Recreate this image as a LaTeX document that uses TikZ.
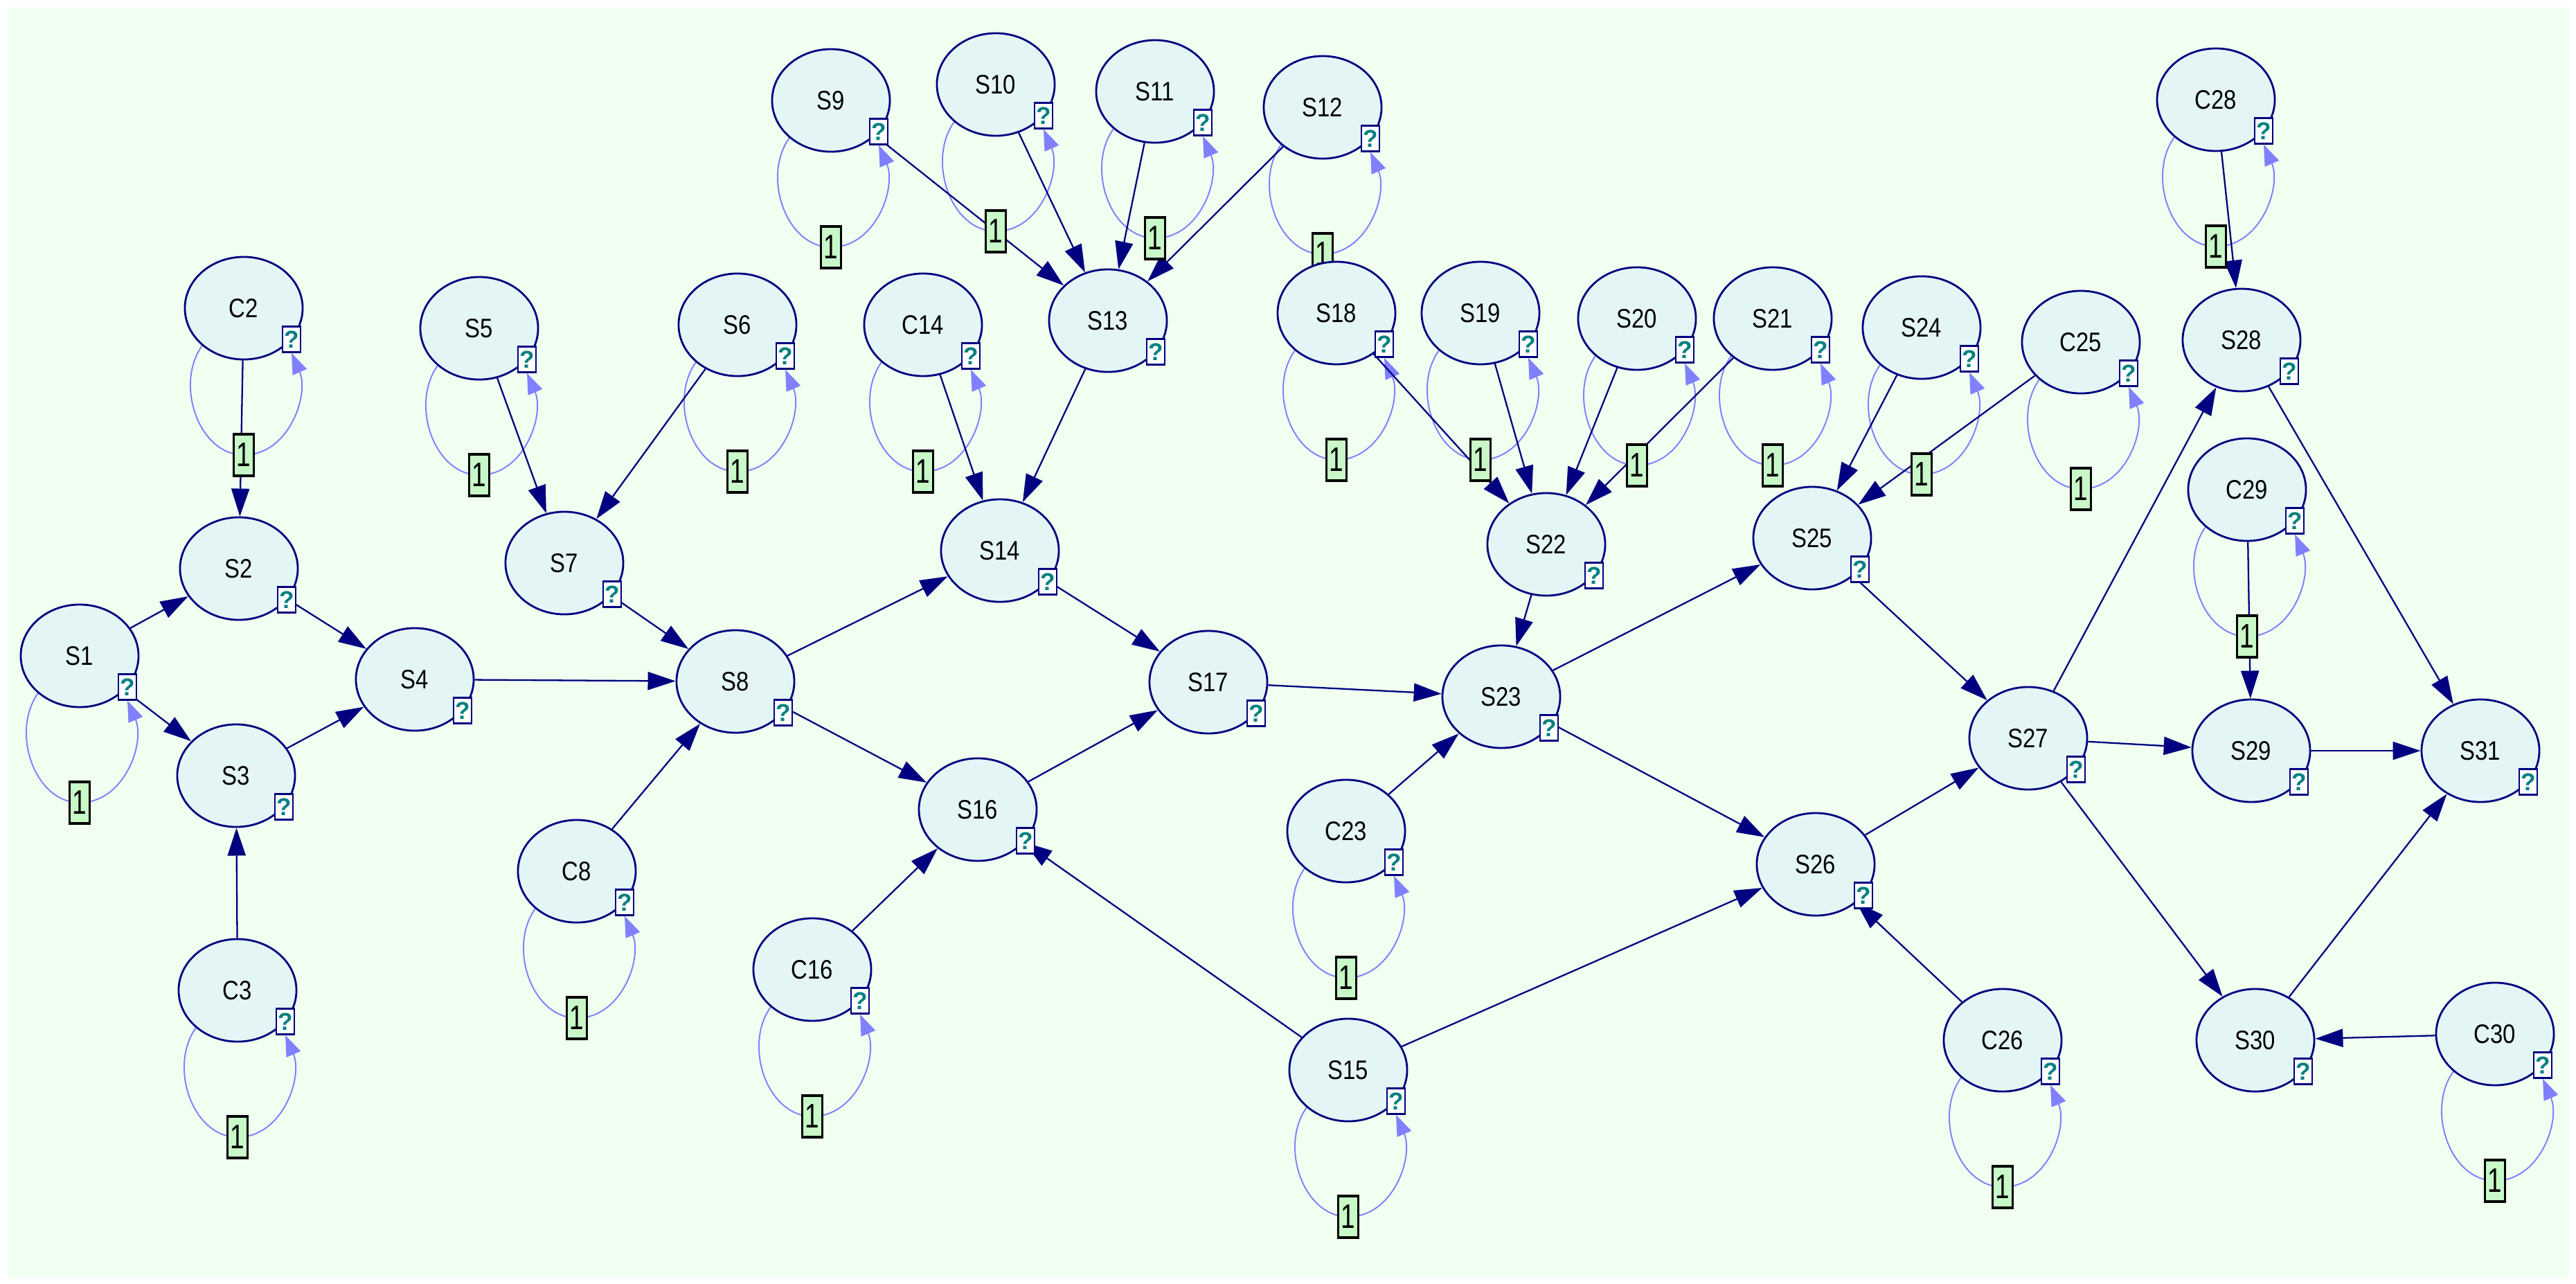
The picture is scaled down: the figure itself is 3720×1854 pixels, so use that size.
\documentclass[tikz,border=0pt]{standalone}
\usepackage{fontspec}
\setmainfont{Liberation Sans}
\usetikzlibrary{arrows.meta,calc,shapes.geometric}
\pgfdeclarelayer{back}\pgfdeclarelayer{lines}\pgfdeclarelayer{ones}
\pgfsetlayers{back,lines,ones,main}
\definecolor{bgc}{HTML}{F0FFF0}
\definecolor{nodefill}{HTML}{E4F5F5}
\definecolor{navyc}{HTML}{000080}
\definecolor{loopc}{HTML}{8080FF}
\definecolor{onefill}{HTML}{C8F8C8}
\definecolor{qteal}{HTML}{008080}
\tikzset{
 st/.style={ellipse, draw=navyc, line width=0.8pt, fill=nodefill, minimum width=1.7cm, minimum height=1.48cm, inner sep=0pt, font=\fontsize{11}{11}\selectfont},
 qbox/.style={rectangle, draw=navyc, line width=0.7pt, fill=white, minimum width=0.26cm, minimum height=0.37cm, inner sep=0pt, text=qteal, font=\bfseries\fontsize{10}{10}\selectfont},
 onebox/.style={rectangle, draw=black, line width=0.9pt, fill=onefill, minimum width=0.29cm, minimum height=0.6cm, inner sep=0pt, font=\fontsize{14}{14}\selectfont},
 edgeline/.style={draw=navyc, line width=0.65pt, -{Triangle[length=0.4cm,width=0.26cm]}},
 loopline/.style={draw=loopc, line width=0.55pt, -{Triangle[length=0.3cm,width=0.22cm]}},
}
\newcommand{\mknode}[3]{\node[st] (#1) at (#2) {\scalebox{0.85}[1]{#3}};
 \node[qbox] (#1q) at ($(#1)+(69,45)$) {?};}
\newcommand{\mkloop}[1]{%
 \begin{pgfonlayer}{ones}\node[onebox] (#1one) at ($(#1)+(0,212)$) {\scalebox{0.75}[1]{1}};\end{pgfonlayer}%
 \begin{pgfonlayer}{lines}\draw[loopline] (#1.-138) .. controls ($(#1)+(-100,110)$) and ($(#1)+(-65,212)$) .. (#1one.center) .. controls ($(#1)+(65,212)$) and ($(#1)+(95,125)$) .. (#1q.south);\end{pgfonlayer}}
\newcommand{\mkedge}[2]{\begin{pgfonlayer}{lines}\draw[edgeline] (#1) -- (#2);\end{pgfonlayer}}
\begin{document}
\begin{tikzpicture}[x=0.01cm,y=-0.01cm]
\useasboundingbox (0,0) rectangle (3720,1854);
\begin{pgfonlayer}{back}
\fill[white] (0,0) rectangle (3720,1854);
\fill[bgc] (11,11) rectangle (3710,1844);
\end{pgfonlayer}
\mknode{S1}{115,947}{S1}
\mknode{S2}{345,821}{S2}
\mknode{S3}{341,1120}{S3}
\mknode{S4}{599,981}{S4}
\mknode{C2}{352,445}{C2}
\mknode{C3}{343,1430}{C3}
\mknode{S5}{692,474}{S5}
\mknode{S6}{1065,469}{S6}
\mknode{S7}{815,813}{S7}
\mknode{S8}{1062,984}{S8}
\mknode{C8}{833,1258}{C8}
\mknode{S9}{1200,145}{S9}
\mknode{S10}{1438,122}{S10}
\mknode{S11}{1668,132}{S11}
\mknode{S12}{1910,155}{S12}
\mknode{S13}{1600,463}{S13}
\mknode{C14}{1333,469}{C14}
\mknode{S14}{1444,795}{S14}
\mknode{S16}{1412,1169}{S16}
\mknode{C16}{1173,1400}{C16}
\mknode{S17}{1745,985}{S17}
\mknode{S15}{1947,1545}{S15}
\mknode{S18}{1930,452}{S18}
\mknode{S19}{2138,452}{S19}
\mknode{S20}{2364,460}{S20}
\mknode{S21}{2560,460}{S21}
\mknode{S22}{2233,786}{S22}
\mknode{S23}{2168,1006}{S23}
\mknode{C23}{1944,1200}{C23}
\mknode{S24}{2775,473}{S24}
\mknode{C25}{3005,494}{C25}
\mknode{S25}{2617,777}{S25}
\mknode{S26}{2622,1248}{S26}
\mknode{C26}{2892,1502}{C26}
\mknode{S27}{2929,1066}{S27}
\mknode{C28}{3200,144}{C28}
\mknode{S28}{3237,491}{S28}
\mknode{C29}{3245,707}{C29}
\mknode{S29}{3251,1084}{S29}
\mknode{S31}{3582,1084}{S31}
\mknode{S30}{3257,1502}{S30}
\mknode{C30}{3603,1493}{C30}
% self loops
\mkloop{S1}\mkloop{C2}\mkloop{C3}\mkloop{S5}\mkloop{S6}\mkloop{C8}
\mkloop{S9}\mkloop{S10}\mkloop{S11}\mkloop{S12}\mkloop{C14}\mkloop{C16}
\mkloop{S15}\mkloop{S18}\mkloop{S19}\mkloop{S20}\mkloop{S21}\mkloop{C23}
\mkloop{S24}\mkloop{C25}\mkloop{C26}\mkloop{C28}\mkloop{C29}\mkloop{C30}
% edges
\mkedge{C2}{S2}\mkedge{S1}{S2}\mkedge{S1}{S3}\mkedge{C3}{S3}
\mkedge{S2}{S4}\mkedge{S3}{S4}\mkedge{S4}{S8}
\mkedge{S5}{S7}\mkedge{S6}{S7}\mkedge{S7}{S8}\mkedge{C8}{S8}
\mkedge{S8}{S14}\mkedge{S8}{S16}\mkedge{C14}{S14}\mkedge{S13}{S14}
\mkedge{S9}{S13}\mkedge{S10}{S13}\mkedge{S11}{S13}\mkedge{S12}{S13}
\mkedge{S14}{S17}\mkedge{S16}{S17}\mkedge{C16}{S16}
\mkedge{S15}{S16}\mkedge{S15}{S26}
\mkedge{S17}{S23}\mkedge{C23}{S23}\mkedge{S22}{S23}
\mkedge{S18}{S22}\mkedge{S19}{S22}\mkedge{S20}{S22}\mkedge{S21}{S22}
\mkedge{S23}{S25}\mkedge{S23}{S26}\mkedge{S24}{S25}\mkedge{C25}{S25}
\mkedge{S25}{S27}\mkedge{S26}{S27}\mkedge{C26}{S26}
\mkedge{S27}{S28}\mkedge{S27}{S29}\mkedge{S27}{S30}
\mkedge{C28}{S28}\mkedge{C29}{S29}
\mkedge{S28}{S31}\mkedge{S29}{S31}\mkedge{S30}{S31}\mkedge{C30}{S30}
\end{tikzpicture}
\end{document}
